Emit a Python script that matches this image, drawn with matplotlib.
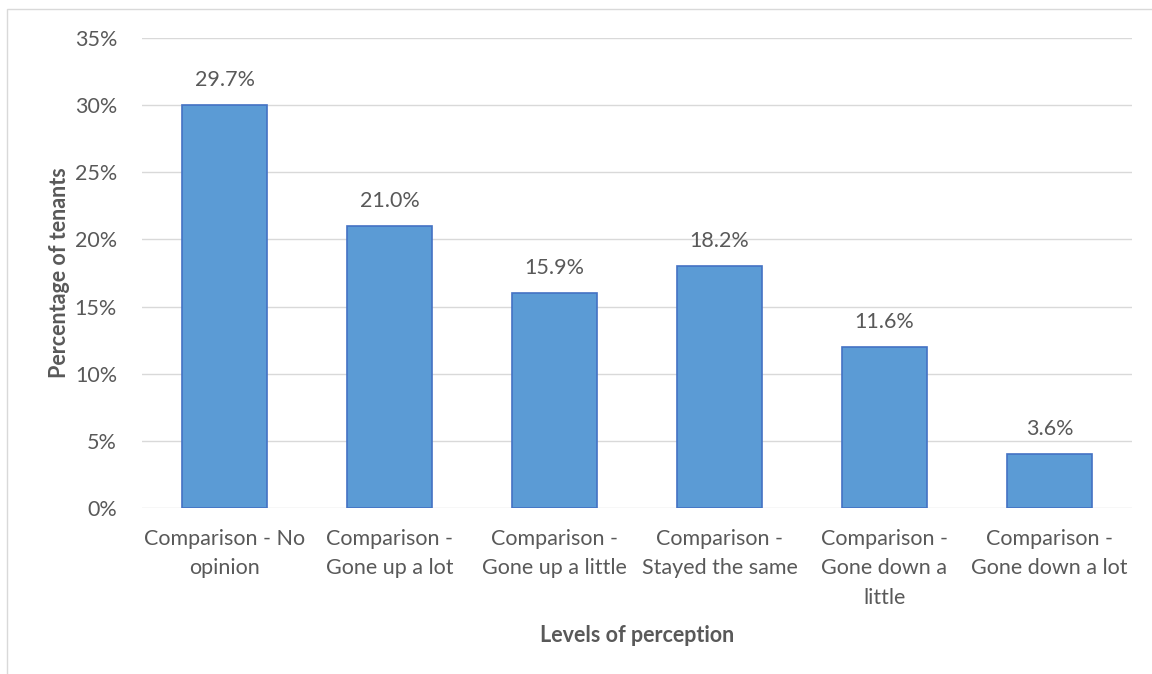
import matplotlib.pyplot as plt
from matplotlib.patches import Rectangle
from matplotlib.ticker import FuncFormatter

categories = [
    "Comparison - No\nopinion",
    "Comparison -\nGone up a lot",
    "Comparison -\nGone up a little",
    "Comparison -\nStayed the same",
    "Comparison -\nGone down a\nlittle",
    "Comparison -\nGone down a lot",
]
bar_values = [30, 21, 16, 18, 12, 4]
value_labels = ["29.7%", "21.0%", "15.9%", "18.2%", "11.6%", "3.6%"]
y_ticks = [0, 5, 10, 15, 20, 25, 30, 35]

text_color = "#595959"
fs = 15.5
plt.rcParams["font.family"] = ["Lato", "DejaVu Sans"]

fig = plt.figure(figsize=(11.52, 6.74), dpi=100)
ax = fig.add_axes([0.1233, 0.2463, 0.8593, 0.6973])

# outer chart frame
fig.patches.append(Rectangle((7 / 1152, -0.01), 1.2, 1 - 9 / 674 + 0.01,
                             transform=fig.transFigure, fill=False,
                             edgecolor="#D9D9D9", linewidth=1))

x = range(len(categories))
ax.bar(x, bar_values, width=0.52, color="#5B9BD5", edgecolor="#4472C4",
       linewidth=1.2, zorder=3)
for xi, v, lab in zip(x, bar_values, value_labels):
    ax.annotate(lab, (xi, v), xytext=(0, 18), textcoords="offset points",
                ha="center", va="center", fontsize=fs, color=text_color)

ax.set_xlim(-0.5, len(categories) - 0.5)
ax.set_ylim(0, 35)
ax.set_yticks(y_ticks)
ax.yaxis.set_major_formatter(FuncFormatter(lambda v, p: f"{v:.0f}%"))
ax.set_xticks(list(x))
ax.set_xticklabels(categories, linespacing=1.6)
ax.tick_params(axis="both", length=0, labelsize=fs, labelcolor=text_color)
ax.tick_params(axis="x", pad=15)
ax.tick_params(axis="y", pad=18)
ax.grid(axis="y", color="#D9D9D9", linewidth=1, zorder=0)
for s in ax.spines.values():
    s.set_visible(False)

ax.set_ylabel("Percentage of tenants", fontsize=fs, fontweight="bold",
              color=text_color, labelpad=3)
ax.set_xlabel("Levels of perception", fontsize=fs, fontweight="bold",
              color=text_color, labelpad=12)

fig.savefig("out.png", dpi=100)
